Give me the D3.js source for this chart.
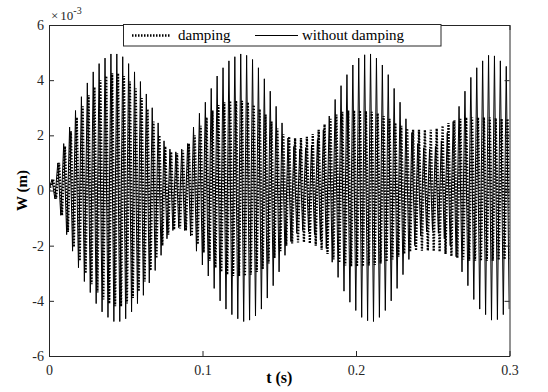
<!DOCTYPE html>
<html><head><meta charset="utf-8">
<script src="https://cdn.jsdelivr.net/npm/d3@7"></script>
<style>
html,body{margin:0;padding:0;background:#fff;}
svg{display:block;}
</style></head>
<body><svg id="c" width="548" height="392"></svg>
<script>
// ---- data (W in units of 1e-3 m) ----
const xTicks = [0, 0.1, 0.2, 0.3];
const yTicks = [-6, -4, -2, 0, 2, 4, 6];
const seriesNames = ["damping", "without damping"];
// oscillation cycle grid (s)
const cyclePeriod = 0.003844;
const undampedStart = 0.0019;
const dampedStart = 0.0027;
// per-cycle maxima / minima
const undampedPeaks = [0.4,1.0,1.7,2.3,2.9,3.4,3.9,4.3,4.6,4.8,4.95,4.95,4.85,4.6,4.3,3.95,3.5,3.0,2.45,1.8,1.5,1.4,1.5,1.7,2.3,2.8,3.2,3.7,4.15,4.45,4.7,4.85,4.95,4.9,4.75,4.45,4.05,3.6,3.05,2.45,1.9,1.6,1.5,1.55,1.65,1.85,2.2,2.7,3.3,3.8,4.2,4.55,4.8,4.92,4.95,4.8,4.55,4.2,3.7,3.2,2.6,2.1,1.7,1.55,1.5,1.6,1.8,2.1,2.5,3.05,3.6,4.1,4.45,4.7,4.9,4.88,4.7,4.5];
const undampedTroughs = [-0.3,-0.9,-1.6,-2.2,-2.8,-3.3,-3.7,-4.1,-4.4,-4.6,-4.75,-4.75,-4.65,-4.4,-4.1,-3.8,-3.35,-2.9,-2.35,-1.75,-1.45,-1.35,-1.45,-1.65,-2.2,-2.7,-3.1,-3.55,-4.0,-4.3,-4.5,-4.65,-4.75,-4.7,-4.55,-4.3,-3.9,-3.45,-2.95,-2.35,-1.85,-1.55,-1.45,-1.5,-1.6,-1.8,-2.1,-2.6,-3.15,-3.65,-4.05,-4.35,-4.6,-4.72,-4.75,-4.6,-4.35,-4.0,-3.55,-3.05,-2.5,-2.0,-1.65,-1.5,-1.45,-1.55,-1.75,-2.0,-2.4,-2.95,-3.45,-3.95,-4.3,-4.5,-4.7,-4.68,-4.5,-4.3];
const dampedPeaks = [0.4,1.0,1.6,2.15,2.65,3.05,3.45,3.75,4.0,4.15,4.25,4.25,4.15,3.95,3.7,3.35,2.95,2.5,2.0,1.6,1.4,1.35,1.45,1.7,2.0,2.35,2.65,2.9,3.1,3.2,3.25,3.25,3.25,3.2,3.1,2.95,2.75,2.5,2.25,2.05,1.95,1.9,1.9,1.95,2.05,2.2,2.4,2.6,2.75,2.85,2.9,2.9,2.9,2.88,2.85,2.8,2.7,2.6,2.45,2.35,2.25,2.2,2.2,2.2,2.2,2.25,2.35,2.45,2.55,2.6,2.65,2.65,2.65,2.65,2.65,2.62,2.6,2.6];
const dampedTroughs = [-0.3,-0.9,-1.5,-2.05,-2.55,-3.0,-3.4,-3.7,-3.95,-4.1,-4.2,-4.2,-4.1,-3.9,-3.65,-3.3,-2.9,-2.45,-2.0,-1.6,-1.42,-1.38,-1.45,-1.65,-1.95,-2.25,-2.55,-2.8,-2.95,-3.05,-3.1,-3.1,-3.1,-3.05,-2.95,-2.85,-2.65,-2.45,-2.2,-2.0,-1.92,-1.88,-1.88,-1.92,-2.0,-2.15,-2.3,-2.5,-2.62,-2.72,-2.75,-2.75,-2.75,-2.72,-2.7,-2.65,-2.58,-2.5,-2.4,-2.3,-2.22,-2.18,-2.18,-2.18,-2.2,-2.22,-2.3,-2.38,-2.45,-2.5,-2.55,-2.55,-2.55,-2.55,-2.55,-2.52,-2.5,-2.5];

// ---- pick an installed serif font ----
function pickFont(cands){
  const ctx = document.createElement("canvas").getContext("2d");
  const sample = "without damping Wm 0123";
  const widthOf = f => { ctx.font = "20px " + f; return ctx.measureText(sample).width; };
  const base1 = widthOf('"ZzNoSuchFontA", monospace');
  const base2 = widthOf('"ZzNoSuchFontA", sans-serif');
  for (const c of cands){
    const w1 = widthOf('"' + c + '", monospace');
    const w2 = widthOf('"' + c + '", sans-serif');
    if (w1 !== base1 && w2 !== base2) return '"' + c + '"';
  }
  return "serif";
}
const FONT = pickFont(["Liberation Serif", "Times New Roman", "Tinos", "Times", "DejaVu Serif", "Noto Serif", "FreeSerif"]) + ", serif";

// ---- build series from extrema ----
function buildSeries(start, peaks, troughs){
  const pts = [[0, 0]];
  const n = Math.min(peaks.length, troughs.length);
  for (let i = 0; i < n; i++){
    const tp = start + i * cyclePeriod;
    pts.push([tp, peaks[i]]);
    pts.push([tp + cyclePeriod / 2, troughs[i]]);
  }
  return pts;
}
const undamped = buildSeries(undampedStart, undampedPeaks, undampedTroughs);
const damped = buildSeries(dampedStart, dampedPeaks, dampedTroughs);

// ---- layout ----
const svg = d3.select("#c");
const L = 49, R = 509.5, T = 25, B = 356;
const x = d3.scaleLinear().domain([0, 0.3]).range([L, R]);
const y = d3.scaleLinear().domain([-6, 6]).range([B, T]);
const axisColor = "#262626";

svg.append("defs").append("clipPath").attr("id", "clip")
  .append("rect").attr("x", L).attr("y", T).attr("width", R - L).attr("height", B - T);

const line = d3.line().x(d => x(d[0])).y(d => y(d[1]));
const plot = svg.append("g").attr("clip-path", "url(#clip)");
plot.append("path").datum(damped).attr("d", line)
  .attr("fill", "none").attr("stroke", "#000").attr("stroke-width", 2.3)
  .attr("stroke-dasharray", "1.5,1.5");
plot.append("path").datum(undamped).attr("d", line)
  .attr("fill", "none").attr("stroke", "#000").attr("stroke-width", 1);

// ---- axes ----
function styleAxis(g){
  g.attr("font-family", null);
  g.select(".domain").attr("stroke", axisColor).attr("stroke-width", 1).attr("fill", "none");
  g.selectAll(".tick line").attr("stroke", axisColor);
  g.selectAll(".tick text").attr("fill", axisColor).style("font-family", FONT).style("font-size", "14px");
}
svg.append("g").attr("transform", `translate(0,${B})`)
  .call(d3.axisBottom(x).tickValues(xTicks).tickSize(-5).tickSizeOuter(0).tickPadding(9).tickFormat(d => String(d)))
  .call(styleAxis);
svg.append("g").attr("transform", `translate(0,${T})`)
  .call(d3.axisTop(x).tickValues(xTicks).tickSize(-5).tickSizeOuter(0).tickFormat(""))
  .call(styleAxis);
svg.append("g").attr("transform", `translate(${L},0)`)
  .call(d3.axisLeft(y).tickValues(yTicks).tickSize(-5).tickSizeOuter(0).tickPadding(5).tickFormat(d => String(d)))
  .call(styleAxis);
svg.append("g").attr("transform", `translate(${R},0)`)
  .call(d3.axisRight(y).tickValues(yTicks).tickSize(-5).tickSizeOuter(0).tickFormat(""))
  .call(styleAxis);

// exponent label
const ex = svg.append("text").attr("x", 51).attr("y", 20).attr("fill", axisColor)
  .style("font-family", FONT).style("font-size", "13px");
ex.append("tspan").text("×");
ex.append("tspan").attr("dx", 2).text("10");
ex.append("tspan").attr("dy", -6).style("font-size", "10px").text("-3");

// axis titles
svg.append("text").attr("x", (L + R) / 2).attr("y", 383).attr("text-anchor", "middle")
  .style("font-family", FONT).style("font-size", "16px").style("font-weight", "bold").attr("fill", "#000").text("t (s)");
svg.append("text").attr("transform", `translate(27,${(T + B) / 2}) rotate(-90)`).attr("text-anchor", "middle")
  .style("font-family", FONT).style("font-size", "15px").style("font-weight", "bold").attr("fill", "#000").text("W (m)");

// ---- legend ----
const lg = svg.append("g");
lg.append("rect").attr("x", 123.5).attr("y", 24.5).attr("width", 317.5).attr("height", 21.5)
  .attr("fill", "#fff").attr("stroke", axisColor).attr("stroke-width", 1);
lg.append("line").attr("x1", 132).attr("x2", 171).attr("y1", 35.5).attr("y2", 35.5)
  .attr("stroke", "#000").attr("stroke-width", 2.3).attr("stroke-dasharray", "1.5,1.5");
lg.append("text").attr("x", 178).attr("y", 40).style("font-family", FONT).style("font-size", "15px")
  .attr("fill", "#000").text(seriesNames[0]);
lg.append("line").attr("x1", 255).attr("x2", 298).attr("y1", 35.5).attr("y2", 35.5)
  .attr("stroke", "#000").attr("stroke-width", 1);
lg.append("text").attr("x", 302).attr("y", 40).style("font-family", FONT).style("font-size", "15px")
  .attr("fill", "#000").text(seriesNames[1]);
</script></body></html>
